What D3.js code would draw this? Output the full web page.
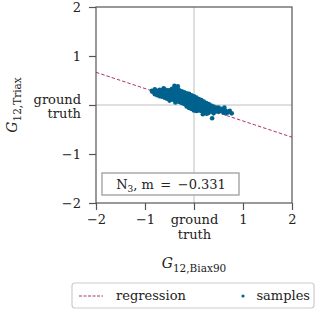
<!DOCTYPE html>
<html>
<head>
<meta charset="utf-8">
<script src="https://cdn.jsdelivr.net/npm/d3@7"></script>
<style>
  body { margin: 0; background: #fff; }
  text { font-family: "DejaVu Serif", serif; fill: #222; }
</style>
</head>
<body>
<svg width="320" height="312"></svg>
<script>
'use strict';

var tickValues = [-2, -1, 0, 1, 2];
var tickLabels = ['\u22122', '\u22121', 'ground|truth', '1', '2'];
var slope = -0.331, intercept = 0.005;
var annotation = 'm\u2002=\u2002\u22120.331';

// sample points
var sampleX = [
  -0.86, -0.85,
  -0.80, -0.80, -0.80,
  -0.75, -0.75, -0.75,
  -0.70, -0.70, -0.70, -0.70,
  -0.65, -0.65, -0.65, -0.65,
  -0.60, -0.60, -0.60, -0.60, -0.60,
  -0.55, -0.55, -0.55, -0.55, -0.55,
  -0.50, -0.50, -0.50, -0.50, -0.50, -0.50,
  -0.45, -0.45, -0.45, -0.45, -0.45, -0.45,
  -0.40, -0.40, -0.40, -0.40, -0.40, -0.40, -0.40,
  -0.35, -0.35, -0.35, -0.35, -0.35, -0.35, -0.35,
  -0.30, -0.30, -0.30, -0.30, -0.30, -0.30,
  -0.25, -0.25, -0.25, -0.25, -0.25, -0.25,
  -0.20, -0.20, -0.20, -0.20, -0.20, -0.20,
  -0.15, -0.15, -0.15, -0.15, -0.15, -0.15, -0.15,
  -0.10, -0.10, -0.10, -0.10, -0.10, -0.10, -0.10,
  -0.05, -0.05, -0.05, -0.05, -0.05, -0.05, -0.05,
  0.00, 0.00, 0.00, 0.00, 0.00, 0.00, 0.00,
  0.05, 0.05, 0.05, 0.05, 0.05, 0.05, 0.05,
  0.10, 0.10, 0.10, 0.10, 0.10, 0.10,
  0.15, 0.15, 0.15, 0.15, 0.15, 0.15,
  0.20, 0.20, 0.20, 0.20, 0.20, 0.20,
  0.25, 0.25, 0.25, 0.25, 0.25,
  0.30, 0.30, 0.30, 0.30, 0.30,
  0.35, 0.35, 0.35, 0.35,
  0.40, 0.40, 0.40, 0.40,
  0.45, 0.45, 0.45,
  0.50, 0.50, 0.50,
  0.55, 0.55,
  0.60, 0.60,
  0.65, 0.65,
  0.70, 0.73, 0.77,
  0.37, 0.18, 0.26, 0.62, -0.62, -0.38, -0.33
];
var sampleY = [
  0.29, 0.27,
  0.32, 0.26, 0.22,
  0.29, 0.24, 0.20,
  0.31, 0.27, 0.22, 0.18,
  0.30, 0.25, 0.21, 0.17,
  0.32, 0.28, 0.23, 0.19, 0.15,
  0.30, 0.26, 0.22, 0.17, 0.13,
  0.30, 0.26, 0.22, 0.18, 0.13, 0.09,
  0.33, 0.29, 0.25, 0.20, 0.16, 0.11,
  0.39, 0.33, 0.28, 0.23, 0.19, 0.14, 0.10,
  0.36, 0.31, 0.26, 0.21, 0.17, 0.12, 0.08,
  0.30, 0.25, 0.20, 0.15, 0.10, 0.06,
  0.28, 0.23, 0.18, 0.13, 0.09, 0.04,
  0.26, 0.21, 0.16, 0.12, 0.07, 0.02,
  0.24, 0.19, 0.15, 0.10, 0.05, 0.00, -0.03,
  0.23, 0.18, 0.13, 0.08, 0.03, -0.02, -0.06,
  0.20, 0.15, 0.10, 0.05, 0.01, -0.04, -0.08,
  0.18, 0.14, 0.09, 0.04, -0.01, -0.06, -0.11,
  0.15, 0.11, 0.06, 0.01, -0.04, -0.08, -0.12,
  0.12, 0.08, 0.03, -0.02, -0.06, -0.11,
  0.10, 0.05, 0.01, -0.04, -0.08, -0.12,
  0.07, 0.03, -0.02, -0.06, -0.10, -0.14,
  0.04, 0.00, -0.04, -0.08, -0.12,
  0.02, -0.03, -0.07, -0.11, -0.16,
  -0.01, -0.05, -0.09, -0.13,
  -0.03, -0.07, -0.11, -0.17,
  -0.05, -0.09, -0.13,
  -0.05, -0.09, -0.14,
  -0.08, -0.12,
  -0.10, -0.15,
  -0.12, -0.17,
  -0.15, -0.12, -0.17,
  -0.27, -0.19, -0.18, -0.05, 0.34, 0.05, 0.38
];

(function () {
var svg = d3.select('svg');
var pLeft = 96, pRight = 292, pTop = 7, pBottom = 203;
var fs = 13;

var x = d3.scaleLinear().domain([-2, 2]).range([pLeft, pRight]);
var y = d3.scaleLinear().domain([-2, 2]).range([pBottom, pTop]);

var g = svg.append('g');

// grid at zero
g.append('line').attr('x1', x(0)).attr('x2', x(0)).attr('y1', pTop).attr('y2', pBottom)
  .attr('stroke', '#d4d4d4').attr('stroke-width', 1.5);
g.append('line').attr('x1', pLeft).attr('x2', pRight).attr('y1', y(0)).attr('y2', y(0))
  .attr('stroke', '#d4d4d4').attr('stroke-width', 1.5);

// regression
svg.append('clipPath').attr('id', 'clip').append('rect')
  .attr('x', pLeft).attr('y', pTop).attr('width', pRight - pLeft).attr('height', pBottom - pTop);
g.append('line')
  .attr('clip-path', 'url(#clip)')
  .attr('x1', x(-2)).attr('y1', y(intercept + slope * -2))
  .attr('x2', x(2)).attr('y2', y(intercept + slope * 2))
  .attr('stroke', '#b0306f').attr('stroke-width', 1).attr('stroke-dasharray', '3.5,2');

// samples
g.selectAll('circle.s').data(d3.range(sampleX.length)).enter().append('circle')
  .attr('class', 's')
  .attr('cx', function (i) { return x(sampleX[i]); })
  .attr('cy', function (i) { return y(sampleY[i]); })
  .attr('r', 2.3)
  .attr('fill', '#00628f');

// spines
g.append('rect').attr('x', pLeft).attr('y', pTop).attr('width', pRight - pLeft).attr('height', pBottom - pTop)
  .attr('fill', 'none').attr('stroke', '#555').attr('stroke-width', 1.2);

function multiLabel(sel, tx) {
  sel.each(function (d, i) {
    var t = d3.select(this);
    var parts = tickLabels[i].split('|');
    var tdy = t.attr('dy');
    t.text(null);
    parts.forEach(function (p, k) {
      t.append('tspan').attr('x', tx).attr('dy', k === 0 ? tdy : '1.1em').text(p);
    });
  });
}

var xAxis = d3.axisBottom(x).tickValues(tickValues).tickSize(7).tickPadding(5)
  .tickFormat(function (d, i) { return tickLabels[i]; });
var xg = svg.append('g').attr('transform', 'translate(0,' + pBottom + ')').call(xAxis);
xg.select('.domain').remove();
xg.selectAll('line').attr('stroke', '#555').attr('stroke-width', 1.2);
xg.selectAll('text').attr('font-family', 'DejaVu Serif').attr('font-size', fs).attr('fill', '#222')
  .call(multiLabel, 0);

var yAxis = d3.axisLeft(y).tickValues(tickValues).tickSize(7).tickPadding(8)
  .tickFormat(function (d, i) { return tickLabels[i]; });
var yg = svg.append('g').attr('transform', 'translate(' + pLeft + ',0)').call(yAxis);
yg.select('.domain').remove();
yg.selectAll('line').attr('stroke', '#555').attr('stroke-width', 1.2);
yg.selectAll('text').attr('font-family', 'DejaVu Serif').attr('font-size', fs).attr('fill', '#222')
  .call(multiLabel, -15);
// shift two-line label so it straddles the zero line
yg.selectAll('.tick').filter(function (d) { return d === 0; }).select('text')
  .attr('transform', 'translate(0,-6)');

// axis titles
var xt = svg.append('text').attr('x', x(0)).attr('y', 268).attr('text-anchor', 'middle')
  .attr('font-size', 14);
xt.append('tspan').attr('font-style', 'italic').text('G');
xt.append('tspan').attr('font-size', 10.5).attr('dy', 4).text('12,Biax90');

var yt = svg.append('text').attr('transform', 'translate(17,' + y(0) + ') rotate(-90)')
  .attr('text-anchor', 'middle').attr('font-size', 14);
yt.append('tspan').attr('font-style', 'italic').text('G');
yt.append('tspan').attr('font-size', 10.5).attr('dy', 4).text('12,Triax');

// annotation box
svg.append('rect').attr('x', 102).attr('y', 173).attr('width', 137).attr('height', 22)
  .attr('fill', '#fff').attr('stroke', '#aaa').attr('stroke-width', 1.5);
var an = svg.append('text').attr('x', 171).attr('y', 189).attr('text-anchor', 'middle')
  .attr('font-size', fs);
an.append('tspan').text('N');
an.append('tspan').attr('font-size', 9).attr('dy', 3).text('3');
an.append('tspan').attr('dy', -3).text(',\u00a0' + annotation);

// legend
var lg = svg.append('g');
lg.append('rect').attr('x', 72).attr('y', 283).attr('width', 242).attr('height', 25).attr('rx', 3)
  .attr('fill', '#fff').attr('stroke', '#ccc').attr('stroke-width', 1.2);
lg.append('line').attr('x1', 79).attr('x2', 103).attr('y1', 296).attr('y2', 296)
  .attr('stroke', '#b0306f').attr('stroke-width', 1).attr('stroke-dasharray', '3,1.5');
lg.append('text').attr('x', 116).attr('y', 300).attr('font-size', fs).text('regression');
lg.append('circle').attr('cx', 243).attr('cy', 296).attr('r', 1.6).attr('fill', '#00628f');
lg.append('text').attr('x', 310).attr('y', 300).attr('text-anchor', 'end').attr('font-size', fs).text('samples');
})();
</script>
</body>
</html>
